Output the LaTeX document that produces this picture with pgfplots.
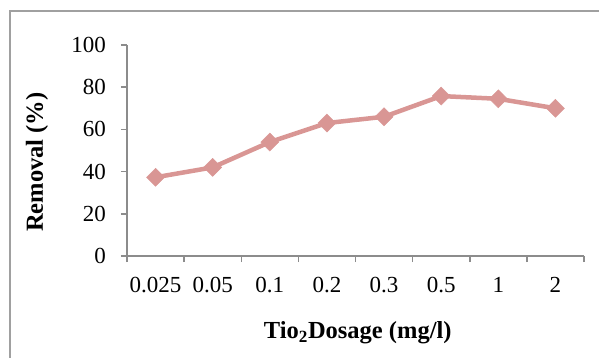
\documentclass[border=0pt]{standalone}
\usepackage{fontspec}
\setmainfont{Liberation Serif}
\usepackage{pgfplots}
\pgfplotsset{compat=1.18}
\definecolor{linec}{HTML}{D99694}
\definecolor{axc}{HTML}{8C8C8C}
\definecolor{framec}{HTML}{A0A0A0}
\begin{document}
\begin{tikzpicture}
\useasboundingbox (-127pt,-102pt) rectangle (472pt,256pt);
\draw[line width=1.5pt, color=framec] (-117pt,-110pt) -- (-117pt,245pt) -- (480pt,245pt);
\begin{axis}[
  at={(0pt,0pt)}, anchor=south west,
  scale only axis, width=457pt, height=211pt,
  xmin=-0.5, xmax=7.5, ymin=0, ymax=100,
  axis lines*=left,
  xtick={0,...,7},
  xticklabels={0.025,0.05,0.1,0.2,0.3,0.5,1,2},
  minor xtick={-0.5,0.5,...,7.5},
  major x tick style={draw=none},
  ytick={0,20,...,100},
  tick align=outside, major tick length=6pt, minor tick length=6pt,
  axis line style={axc, line width=1.5pt},
  every tick/.style={axc, line width=1.5pt},
  ticklabel style={font=\fontsize{23}{26}\selectfont, inner sep=0pt},
  /pgf/number format/assume math mode=true,
  xticklabel style={anchor=center, yshift=-23pt},
  yticklabel style={anchor=east, xshift=-15pt},
  xlabel={\textbf{Tio\textsubscript{2}Dosage (mg/l)}},
  ylabel={\textbf{Removal (\%)}},
  label style={font=\fontsize{24.5}{28}\selectfont},
  xlabel style={at={(axis description cs:0.505,-0.365)}, anchor=center},
  ylabel style={at={(axis description cs:-0.197,0.445)}, anchor=center},
  clip=false,
]
\addplot[color=linec, line width=4.5pt, mark=diamond*, mark size=9pt,
  mark options={xscale=1.33, line width=0.5pt, fill=linec}]
  coordinates {(0,37.3) (1,42) (2,54) (3,63) (4,66) (5,75.8) (6,74.5) (7,70)};
\end{axis}
\end{tikzpicture}
\end{document}
